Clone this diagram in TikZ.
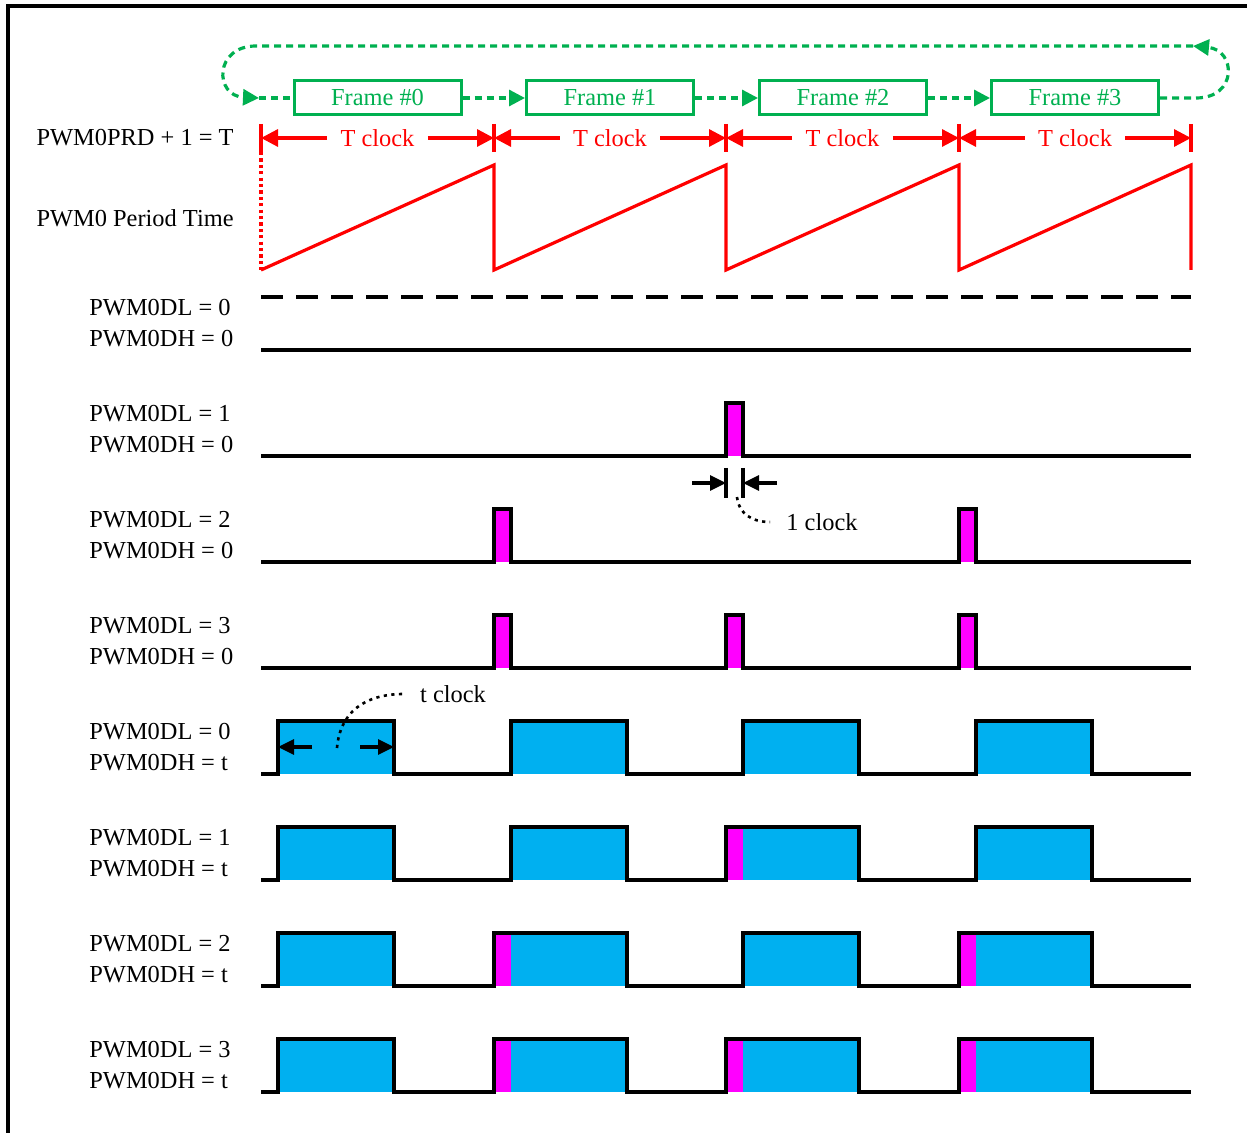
\documentclass[tikz,border=0pt]{standalone}
\usepackage{fontspec}
\setmainfont{Liberation Serif}
\usetikzlibrary{arrows.meta,calc}
\definecolor{frmgreen}{RGB}{0,176,80}
\definecolor{pulseblue}{RGB}{0,176,240}
\definecolor{pulsemag}{RGB}{255,0,255}
\tikzset{
  lbl/.style={font=\fontsize{12.2}{15.5}\selectfont, inner sep=0pt},
  frmbox/.style={lbl, draw=frmgreen, text=frmgreen, line width=1.5pt, minimum width=83.5pt, minimum height=17pt},
  loopline/.style={frmgreen, line width=1.6pt, dash pattern=on 3.5pt off 2.5pt},
  looparrow/.style={loopline, -{Triangle[length=8pt,width=8pt]}},
  redline/.style={red, line width=1.6pt},
  tarrow/.style={redline, -{Triangle[length=8.5pt,width=8.5pt]}},
  wave/.style={black, line width=1.6pt, line join=miter},
  dimarrow/.style={black, line width=1.6pt, -{Triangle[length=8pt,width=7.5pt]}},
  note/.style={black, line width=1.3pt, dash pattern=on 1.6pt off 2.2pt},
}
\begin{document}
\begin{tikzpicture}[x=0.5pt,y=-0.5pt]
\useasboundingbox (0,0) rectangle (1247,1133);
\draw[line width=1.6pt] (8,1133) -- (8,6) -- (1247,6);

% frames and the loop back
\foreach \i/\x in {0/377.5,1/610,2/843,3/1075}
  \node[frmbox] (f\i) at (\x,98) {Frame \#\i};
\foreach \i/\j in {0/1,1/2,2/3}
  \draw[looparrow] (f\i) -- (f\j);
\coordinate (lin) at (259,98);
\coordinate (ltop) at (1193,46);
\draw[looparrow] (f3) -- (1196,98) .. controls (1238,98) and (1236,50) .. (ltop);
\draw[looparrow] (ltop) -- (256,46) .. controls (214,46) and (214,96) .. (lin);
\draw[loopline] (lin) -- (f0);

% period
\node[lbl, anchor=east] (prd) at (234,138) {PWM0PRD + 1 = T};
\node[lbl, anchor=east] (per) at (234,218) {PWM0 Period Time};
\foreach \i/\x in {0/261,1/494,2/726,3/959,4/1191}{
  \coordinate (b\i) at (\x,138);
  \draw[redline] (\x,124) -- (\x,152);
}
\foreach \i/\j in {0/1,1/2,2/3,3/4}{
  \node[lbl, text=red, inner sep=6.5pt] (tc\i) at ($(b\i)!0.5!(b\j)$) {T clock};
  \draw[tarrow] (tc\i) -- (b\i);
  \draw[tarrow] (tc\i) -- (b\j);
}
\draw[redline, dash pattern=on 1.6pt off 1.6pt] (261,152) -- (261,270);
\draw[redline, line join=miter] (261,270) -- (494,165) -- (494,270) -- (726,165) -- (726,270)
  -- (959,165) -- (959,270) -- (1191,165) -- (1191,270);

% row labels
\foreach \y/\dl/\dh in {323/0/0,429/1/0,535/2/0,641/3/0,747/0/t,853/1/t,959/2/t,1065/3/t}
  \node[lbl, anchor=west, align=left] (row\dl\dh) at (89,\y) {PWM0DL = \dl\\PWM0DH = \dh};

% PWM0DL = 0, PWM0DH = 0
\draw[wave, dash pattern=on 11pt off 6.5pt] (261,297) -- (1191,297);
\draw[wave] (261,350) -- (1191,350);

% short pulses
\fill[pulsemag] (726,456) rectangle (743,403);
\draw[wave] (261,456) foreach \s in {726} {-- (\s,456) -- (\s,403) -- (\s+17,403) -- (\s+17,456)} -- (1191,456);
\foreach \s in {494,959} \fill[pulsemag] (\s,562) rectangle ++(17,-53);
\draw[wave] (261,562) foreach \s in {494,959} {-- (\s,562) -- (\s,509) -- (\s+17,509) -- (\s+17,562)} -- (1191,562);
\foreach \s in {494,726,959} \fill[pulsemag] (\s,668) rectangle ++(17,-53);
\draw[wave] (261,668) foreach \s in {494,726,959} {-- (\s,668) -- (\s,615) -- (\s+17,615) -- (\s+17,668)} -- (1191,668);

% 1 clock
\draw[wave] (726,468) -- (726,498);
\draw[wave] (743,468) -- (743,498);
\coordinate (c1a) at (726,483);
\coordinate (c1b) at (743,483);
\coordinate (c1l) at (692,483);
\coordinate (c1r) at (777,483);
\draw[dimarrow] (c1l) -- (c1a);
\draw[dimarrow] (c1r) -- (c1b);
\node[lbl, inner sep=8pt] (oneclk) at (822,522) {1 clock};
\draw[note] (737,497) .. controls (739,514) and (752,522) .. (oneclk.west);

% wide pulses
\foreach \s in {278,511,743,976} \fill[pulseblue] (\s,774) rectangle ++(116,-53);
\draw[wave] (261,774) foreach \s in {278,511,743,976} {-- (\s,774) -- (\s,721) -- (\s+116,721) -- (\s+116,774)} -- (1191,774);

\foreach \s in {278,511,743,976} \fill[pulseblue] (\s,880) rectangle ++(116,-53);
\fill[pulsemag] (726,880) rectangle ++(17,-53);
\draw[wave] (261,880) foreach \s/\e in {278/394,511/627,726/859,976/1092} {-- (\s,880) -- (\s,827) -- (\e,827) -- (\e,880)} -- (1191,880);

\foreach \s in {278,511,743,976} \fill[pulseblue] (\s,986) rectangle ++(116,-53);
\foreach \s in {494,959} \fill[pulsemag] (\s,986) rectangle ++(17,-53);
\draw[wave] (261,986) foreach \s/\e in {278/394,494/627,743/859,959/1092} {-- (\s,986) -- (\s,933) -- (\e,933) -- (\e,986)} -- (1191,986);

\foreach \s in {278,511,743,976} \fill[pulseblue] (\s,1092) rectangle ++(116,-53);
\foreach \s in {494,726,959} \fill[pulsemag] (\s,1092) rectangle ++(17,-53);
\draw[wave] (261,1092) foreach \s/\e in {278/394,494/627,726/859,959/1092} {-- (\s,1092) -- (\s,1039) -- (\e,1039) -- (\e,1092)} -- (1191,1092);

% t clock
\coordinate (tcl) at (278,747);
\coordinate (tcr) at (394,747);
\coordinate (tcla) at (312,747);
\coordinate (tcra) at (360,747);
\draw[dimarrow] (tcla) -- (tcl);
\draw[dimarrow] (tcra) -- (tcr);
\node[lbl, inner sep=8pt] (tclk) at (453,694) {t clock};
\draw[note] (337,748) .. controls (340,712) and (365,694) .. (tclk.west);
\end{tikzpicture}
\end{document}
